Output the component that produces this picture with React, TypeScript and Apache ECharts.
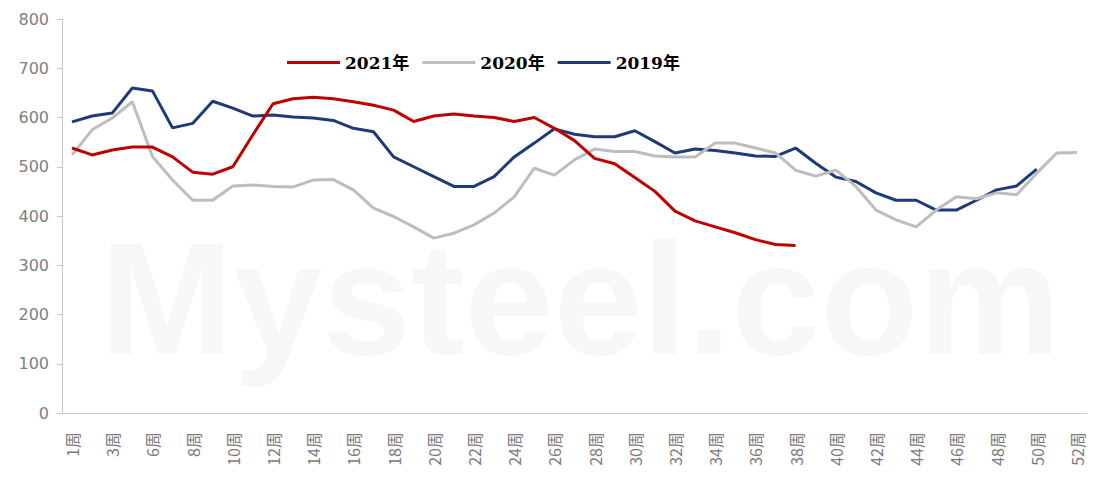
import React, { useEffect, useRef } from "react";
import * as echarts from "echarts";

const weeks: number[] = [1, 2, 3, 4, 6, 7, 8, 9, 10, 11, 12, 13, 14, 15, 16, 17, 18, 19, 20, 21, 22, 23, 24, 25, 26, 27, 28, 29, 30, 31, 32, 33, 34, 35, 36, 37, 38, 39, 40, 41, 42, 43, 44, 45, 46, 47, 48, 49, 50, 51, 52];
const categories: string[] = weeks.map((w) => `${w}周`);

const s2021: number[] = [538, 524, 534, 540, 540, 520, 489, 485, 500, 565, 628, 638, 641, 638, 632, 625, 615, 592, 603, 607, 603, 600, 592, 600, 578, 553, 517, 506, 478, 450, 410, 390, 378, 366, 352, 342, 340];
const s2020: number[] = [524, 575, 599, 632, 521, 473, 432, 432, 461, 463, 460, 459, 473, 474, 453, 416, 399, 378, 355, 365, 382, 406, 439, 497, 483, 514, 536, 531, 531, 522, 520, 520, 548, 548, 538, 528, 493, 481, 493, 460, 412, 392, 378, 412, 439, 435, 447, 443, 487, 528, 529];
const s2019: number[] = [591, 603, 609, 660, 654, 579, 588, 633, 619, 603, 605, 601, 599, 594, 578, 571, 520, 500, 480, 460, 460, 480, 520, 548, 577, 566, 561, 561, 573, 551, 528, 536, 533, 528, 522, 521, 538, 507, 479, 470, 447, 432, 432, 412, 412, 432, 453, 461, 495];

const seriesNames: string[] = ["2021年", "2020年", "2019年"];
const yTicks = { min: 0, max: 800, interval: 100 };

export default function App() {
  const ref = useRef<HTMLDivElement>(null);
  useEffect(() => {
    if (!ref.current) return;
    const chart = echarts.init(ref.current, undefined, { renderer: "svg" });
    const colors = ["#C00000", "#BDBDBD", "#1F3A78"];
    const data = [s2021, s2020, s2019];
    chart.setOption({
      animation: false,
      backgroundColor: "#ffffff",
      graphic: [
        {
          type: "text",
          left: 100,
          top: 218,
          z: -10,
          silent: true,
          style: {
            text: "Mysteel.com",
            font: "bold 160px 'Liberation Sans', Arial, sans-serif",
            fill: "#f7f7f7",
          },
        },
      ],
      legend: {
        left: 282,
        top: 49,
        icon: "rect",
        itemWidth: 53,
        itemHeight: 3,
        itemGap: 13,
        data: seriesNames,
        textStyle: {
          fontFamily: "'DejaVu Serif', 'Noto Sans CJK SC', serif",
          fontWeight: "bold",
          fontSize: 17,
          color: "#000000",
        },
      },
      grid: { left: 62, right: 8, top: 19, bottom: 66 },
      xAxis: {
        type: "category",
        data: categories,
        boundaryGap: true,
        axisLine: { lineStyle: { color: "#c8c8c8", width: 1 } },
        axisTick: { interval: 0, length: 5, lineStyle: { color: "#c8c8c8" } },
        axisLabel: {
          interval: 1,
          rotate: 90,
          fontSize: 16,
          color: "#7a7a7a",
          margin: 19,
          fontFamily: "'Noto Sans CJK SC', sans-serif",
        },
        splitLine: { show: false },
      },
      yAxis: {
        type: "value",
        min: yTicks.min,
        max: yTicks.max,
        interval: yTicks.interval,
        axisLine: { show: true, lineStyle: { color: "#c8c8c8", width: 1 } },
        axisTick: { show: true, length: 5, lineStyle: { color: "#c8c8c8" } },
        axisLabel: {
          fontSize: 16,
          color: "#808080",
          margin: 13,
          fontFamily: "'DejaVu Sans', sans-serif",
        },
        splitLine: { show: false },
      },
      series: seriesNames.map((name, i) => ({
        name,
        type: "line",
        data: data[i],
        showSymbol: false,
        symbol: "none",
        z: 3 - i,
        lineStyle: { color: colors[i], width: 3 },
        itemStyle: { color: colors[i] },
      })),
    });
    return () => chart.dispose();
  }, []);
  return (
    <div
      ref={ref}
      style={{ position: "fixed", left: 0, top: 0, width: 1095, height: 479 }}
    />
  );
}
